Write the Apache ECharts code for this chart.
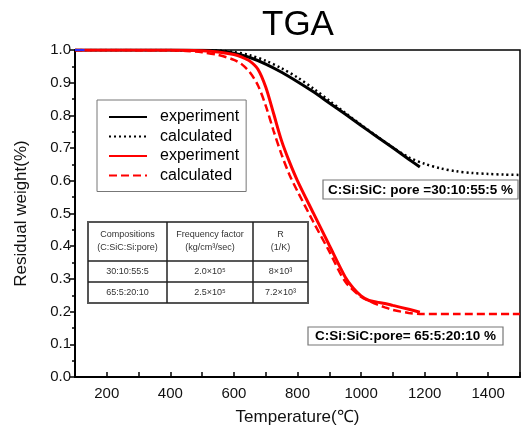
<!DOCTYPE html>
<html>
<head>
<meta charset="utf-8">
<script src="https://cdn.jsdelivr.net/npm/echarts@6/dist/echarts.min.js"></script>
<style>
  html, body { margin: 0; padding: 0; background: #fff; }
  #chart { width: 521px; height: 427px; }
</style>
</head>
<body>
<div id="chart"></div>
<script>
// values (temperature in deg C, residual weight fraction)
const blackExpT = [100, 300, 500, 550, 600, 650, 700, 750, 800, 850, 900, 950, 1000, 1050, 1100, 1150, 1185];
const blackExpW = [1.0, 1.0, 0.999, 0.997, 0.99, 0.977, 0.957, 0.932, 0.903, 0.872, 0.838, 0.804, 0.769, 0.735, 0.701, 0.666, 0.642];

const blackCalcT = [100, 300, 500, 550, 600, 650, 700, 750, 800, 850, 900, 950, 1000, 1050, 1100, 1150, 1200, 1250, 1300, 1350, 1400, 1450, 1500];
const blackCalcW = [1.0, 1.0, 0.999, 0.998, 0.994, 0.984, 0.967, 0.944, 0.916, 0.882, 0.845, 0.808, 0.771, 0.736, 0.702, 0.672, 0.652, 0.638, 0.629, 0.624, 0.621, 0.619, 0.618];

const redExpT = [100, 400, 500, 550, 600, 625, 650, 675, 700, 725, 750, 775, 800, 850, 900, 950, 975, 1000, 1025, 1050, 1075, 1100, 1150, 1185];
const redExpW = [1.0, 1.0, 0.998, 0.994, 0.986, 0.978, 0.966, 0.942, 0.887, 0.805, 0.722, 0.657, 0.6, 0.501, 0.403, 0.306, 0.272, 0.248, 0.234, 0.229, 0.225, 0.219, 0.207, 0.198];

const redCalcT = [100, 400, 450, 500, 550, 600, 625, 650, 675, 700, 725, 750, 775, 800, 850, 900, 950, 1000, 1025, 1050, 1075, 1100, 1150, 1185, 1300, 1500];
const redCalcW = [1.0, 0.999, 0.997, 0.993, 0.985, 0.97, 0.956, 0.932, 0.893, 0.83, 0.752, 0.68, 0.618, 0.568, 0.474, 0.384, 0.292, 0.245, 0.233, 0.222, 0.213, 0.205, 0.196, 0.193, 0.193, 0.193];

// short blue stub at the very start of the 1.0 line
const blueT = [100, 130];
const blueW = [1.0, 1.0];

const legendNames = ['experiment', 'calculated', 'experiment ', 'calculated '];

const tableHeader = [['Compositions', '(C:SiC:Si:pore)'], ['Frequency factor', '(kg/cm³/sec)'], ['R', '(1/K)']];
const tableRows = [['30:10:55:5', '2.0×10⁵', '8×10³'], ['65:5:20:10', '2.5×10⁵', '7.2×10³']];

const label1 = 'C:Si:SiC: pore =30:10:55:5 %';
const label2 = 'C:Si:SiC:pore= 65:5:20:10 %';

const FONT = '"Liberation Sans", Arial, sans-serif';

function pairs(xs, ys) {
    return xs.map((x, i) => [x, ys[i]]);
}

// table layout
const tblX = [88, 167, 253, 308];
const tblY = [222, 261, 282, 303];
let graphics = [];
graphics.push({
    type: 'rect', z: 100,
    shape: { x: tblX[0], y: tblY[0], width: tblX[3] - tblX[0], height: tblY[3] - tblY[0] },
    style: { fill: '#fff', stroke: '#555', lineWidth: 2 }
});
[tblY[1], tblY[2]].forEach(y => graphics.push({
    type: 'line', z: 101,
    shape: { x1: tblX[0], y1: y, x2: tblX[3], y2: y },
    style: { stroke: '#222', lineWidth: 1.5 }
}));
[tblX[1], tblX[2]].forEach(x => graphics.push({
    type: 'line', z: 101,
    shape: { x1: x, y1: tblY[0], x2: x, y2: tblY[3] },
    style: { stroke: '#222', lineWidth: 1.5 }
}));
for (let c = 0; c < 3; c++) {
    const cx = (tblX[c] + tblX[c + 1]) / 2;
    graphics.push({
        type: 'text', z: 102,
        style: {
            text: tableHeader[c].join('\n'), x: cx, y: (tblY[0] + tblY[1]) / 2,
            align: 'center', verticalAlign: 'middle', lineHeight: 13,
            font: '9px ' + FONT, fill: '#333'
        }
    });
    for (let r = 0; r < tableRows.length; r++) {
        graphics.push({
            type: 'text', z: 102,
            style: {
                text: tableRows[r][c], x: cx, y: (tblY[r + 1] + tblY[r + 2]) / 2,
                align: 'center', verticalAlign: 'middle',
                font: '9px ' + FONT, fill: '#333'
            }
        });
    }
}

// boxed composition labels
function boxLabel(text, x, y, w, h) {
    graphics.push({
        type: 'rect', z: 100,
        shape: { x: x, y: y, width: w, height: h },
        style: { fill: '#fff', stroke: '#777', lineWidth: 1.2 }
    });
    graphics.push({
        type: 'text', z: 101,
        style: {
            text: text, x: x + w / 2, y: y + h / 2 + 0.5,
            align: 'center', verticalAlign: 'middle',
            font: 'bold 13.5px ' + FONT, fill: '#000'
        }
    });
}
boxLabel(label1, 323, 180, 195, 19);
boxLabel(label2, 308, 327, 195, 18);

const chart = echarts.init(document.getElementById('chart'));
const option = {
    animation: false,
    backgroundColor: '#fff',
    title: {
        text: 'TGA',
        left: 262,
        top: 8,
        padding: 0,
        textStyle: { fontFamily: FONT, fontSize: 35, fontWeight: 'normal', color: '#000' }
    },
    legend: {
        orient: 'vertical',
        left: 97,
        top: 100,
        padding: [9, 7, 8, 11],
        backgroundColor: '#fff',
        borderColor: '#777',
        borderWidth: 1,
        itemWidth: 38,
        itemHeight: 14,
        itemGap: 3.5,
        data: legendNames,
        formatter: name => name.trim(),
        itemStyle: { opacity: 0 },
        textStyle: { fontFamily: FONT, fontSize: 16, color: '#000', lineHeight: 16, padding: [0, 0, 0, 8] },
        selectedMode: false
    },
    grid: {
        left: 75, right: 1, top: 50, bottom: 50,
        outerBoundsMode: 'none',
        show: true, borderColor: '#000', borderWidth: 1.5
    },
    xAxis: {
        type: 'value',
        min: 100, max: 1500, interval: 100,
        name: 'Temperature(℃)',
        nameLocation: 'middle',
        nameGap: 32,
        nameTextStyle: { fontFamily: FONT, fontSize: 17, color: '#111' },
        axisLine: { lineStyle: { color: '#000', width: 2 } },
        axisTick: { inside: true, length: 5, lineStyle: { color: '#000', width: 1.5 } },
        axisLabel: {
            fontFamily: FONT, fontSize: 15, color: '#111', margin: 9,
            formatter: v => (v % 200 === 0 && v < 1500) ? String(v) : ''
        },
        splitLine: { show: false }
    },
    yAxis: {
        type: 'value',
        min: 0, max: 1, interval: 0.1,
        name: 'Residual weight(%)',
        nameLocation: 'middle',
        nameGap: 45,
        nameTextStyle: { fontFamily: FONT, fontSize: 17, color: '#111' },
        axisLine: { lineStyle: { color: '#000', width: 2 } },
        axisTick: { length: 5, lineStyle: { color: '#000', width: 1.5 } },
        minorTick: { show: true, splitNumber: 2, length: 3, lineStyle: { color: '#000', width: 1.5 } },
        axisLabel: {
            fontFamily: FONT, fontSize: 15, color: '#111', margin: 4,
            formatter: v => v.toFixed(1)
        },
        splitLine: { show: false },
        minorSplitLine: { show: false }
    },
    series: [
        {
            name: legendNames[0], type: 'line', symbol: 'none', smooth: 0.3,
            data: pairs(blackExpT, blackExpW),
            lineStyle: { color: '#000', width: 3 }, itemStyle: { color: '#000' }
        },
        {
            name: legendNames[1], type: 'line', symbol: 'none', smooth: 0.3,
            data: pairs(blackCalcT, blackCalcW),
            lineStyle: { color: '#000', width: 2.5, type: [2, 3] }, itemStyle: { color: '#000' }
        },
        {
            name: legendNames[2], type: 'line', symbol: 'none', smooth: 0.3,
            data: pairs(redExpT, redExpW),
            lineStyle: { color: '#ff0000', width: 3 }, itemStyle: { color: '#ff0000' }
        },
        {
            name: legendNames[3], type: 'line', symbol: 'none', smooth: 0.3,
            data: pairs(redCalcT, redCalcW),
            lineStyle: { color: '#ff0000', width: 2.5, type: [8, 4] }, itemStyle: { color: '#ff0000' }
        },
        {
            name: 'start', type: 'line', symbol: 'none', z: 5,
            data: pairs(blueT, blueW),
            lineStyle: { color: '#2a2aff', width: 2 }
        }
    ],
    graphic: graphics
};
chart.setOption(option);
</script>
</body>
</html>
